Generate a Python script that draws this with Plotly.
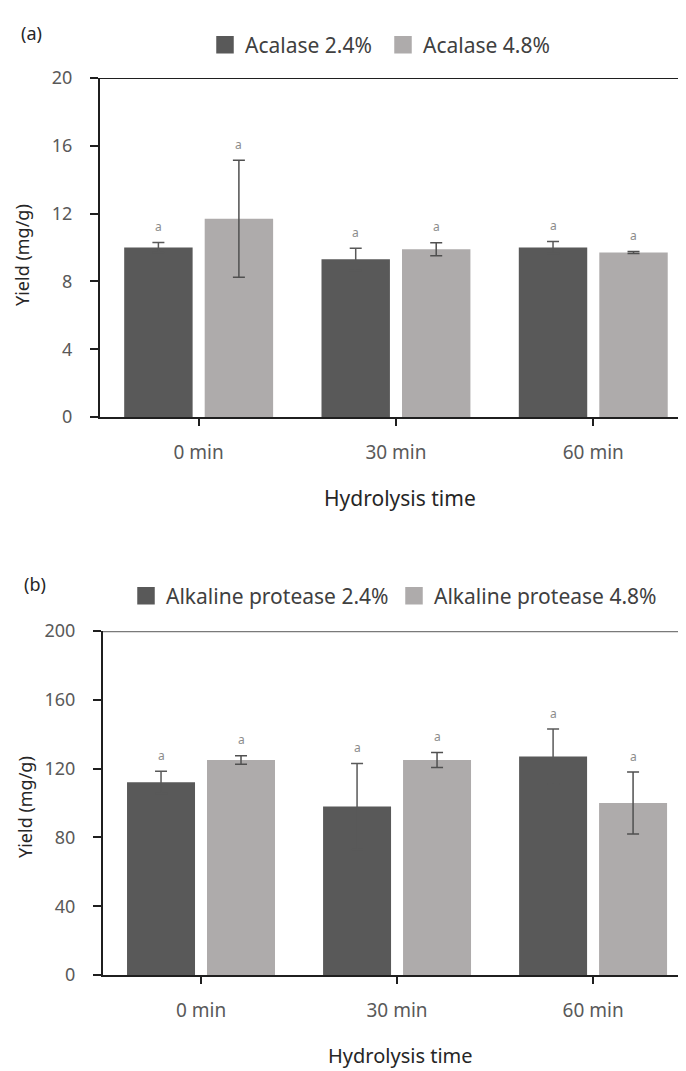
import plotly.graph_objects as go

# ---------------- data ----------------
categories = ["0 min", "30 min", "60 min"]

acalase_24 = [10.0, 9.3, 10.0]
acalase_24_err = [0.3, 0.65, 0.35]
acalase_48 = [11.7, 9.9, 9.7]
acalase_48_err = [3.45, 0.38, 0.06]

alk_24 = [112, 98, 127]
alk_24_err = [6.5, 25, 16]
alk_48 = [125, 125, 100]
alk_48_err = [2.5, 4.3, 18]

letters_a_24 = ["a", "a", "a"]
letters_a_48 = ["a", "a", "a"]
letters_b_24 = ["a", "a", "a"]
letters_b_48 = ["a", "a", "a"]

names_a = ["Acalase 2.4%", "Acalase 4.8%"]
names_b = ["Alkaline protease 2.4%", "Alkaline protease 4.8%"]

y_range_a = [0, 20]
y_range_b = [0, 200]
y_dtick_a = 4
y_dtick_b = 40

# ---------------- style / layout helpers ----------------
FONT = "Noto Sans"
DARK = "#595959"
LIGHT = "#AEABAB"
ERR = "#505050"
BARGAP = 0.184
GROUPGAP = 0.15
OFFSET = 8                      # page body margin in the browser
W, H = 686 - OFFSET, 1071 - OFFSET


def px(x):   # reference page x pixel -> paper fraction
    return (x - OFFSET) / W


def py(y):   # reference page y pixel -> paper fraction
    return 1 - (y - OFFSET) / H


fig = go.Figure()


def err(arr, col):
    return dict(type="data", array=arr, color=col, thickness=1.5, width=6, visible=True)


def add_panel(xa, ya, v1, e1, v2, e2, names, legend):
    fig.add_trace(go.Bar(x=categories, y=v1, error_y=err(e1, DARK), marker=dict(color=DARK, line=dict(width=0)),
                         xaxis=xa, yaxis=ya, showlegend=False, name=names[0]))
    fig.add_trace(go.Bar(x=categories, y=v2, error_y=err(e2, ERR), marker=dict(color=LIGHT, line=dict(width=0)),
                         xaxis=xa, yaxis=ya, showlegend=False, name=names[1]))
    # legend proxies (bigger square symbols)
    for nm, col in zip(names, [DARK, LIGHT]):
        fig.add_trace(go.Scatter(x=[None], y=[None], mode="markers", name=nm,
                                 marker=dict(symbol="square", size=16, color=col, line=dict(width=1.5, color=col)),
                                 xaxis=xa, yaxis=ya, legend=legend, showlegend=True))


add_panel("x", "y", acalase_24, acalase_24_err, acalase_48, acalase_48_err, names_a, "legend")
add_panel("x2", "y2", alk_24, alk_24_err, alk_48, alk_48_err, names_b, "legend2")

# significance letters
off = (1 - BARGAP) / 4
annotations = []
for xr, yr, vals, errs, letters, sign in [
    ("x", "y", acalase_24, acalase_24_err, letters_a_24, -1),
    ("x", "y", acalase_48, acalase_48_err, letters_a_48, 1),
    ("x2", "y2", alk_24, alk_24_err, letters_b_24, -1),
    ("x2", "y2", alk_48, alk_48_err, letters_b_48, 1),
]:
    for i, (v, e, t) in enumerate(zip(vals, errs, letters)):
        annotations.append(dict(x=i + sign * off, y=v + e, xref=xr, yref=yr, text=t, showarrow=False,
                                xanchor="center", yanchor="middle", yshift=16,
                                font=dict(family=FONT, size=12, color="#8c8c8c")))

# text labels
txt = "#262626"


def label(x, y, text, size, angle=0):
    return dict(x=px(x), y=py(y), xref="paper", yref="paper", text=text, showarrow=False,
                xanchor="center", yanchor="middle", textangle=angle,
                font=dict(family=FONT, size=size, color=txt))


annotations += [
    label(31, 33, "(a)", 18),
    label(35, 584, "(b)", 18),
    label(400, 498, "Hydrolysis time", 21),
    label(400, 1055, "Hydrolysis time", 20),
    label(22, 255, "Yield (mg/g)", 18, -90),
    label(25, 807, "Yield (mg/g)", 18, -90),
]

shapes = [
    dict(type="line", xref="x domain", yref="y", x0=0, x1=1, y0=y_range_a[1], y1=y_range_a[1],
         line=dict(color="#1f1f1f", width=2)),
    dict(type="line", xref="x2 domain", yref="y2", x0=0, x1=1, y0=y_range_b[1], y1=y_range_b[1],
         line=dict(color="#7a7a7a", width=2.5)),
]

xcommon = dict(type="category", showline=True, linecolor="#1f1f1f", linewidth=2, ticks="outside",
               ticklen=7, tickwidth=2, tickcolor="#1f1f1f", showgrid=False, zeroline=False,
               tickfont=dict(family=FONT, size=19, color="#595959"), ticklabelstandoff=10, automargin=False)
ycommon = dict(showline=True, linecolor="#1f1f1f", linewidth=2, ticks="outside", ticklen=8, tickwidth=2,
               tickcolor="#1f1f1f", showgrid=False, zeroline=False,
               tickfont=dict(family=FONT, size=18, color="#595959"), ticklabelstandoff=14, automargin=False)

fig.update_layout(
    width=W, height=H,
    margin=dict(l=0, r=0, t=0, b=0, autoexpand=False),
    paper_bgcolor="white", plot_bgcolor="white",
    barmode="group", bargap=BARGAP, bargroupgap=GROUPGAP,
    font=dict(family=FONT),
    xaxis=dict(domain=[px(100), 1], anchor="y", range=[-0.5, 2.47], **xcommon),
    yaxis=dict(domain=[py(417), py(78)], anchor="x", range=y_range_a, dtick=y_dtick_a, tick0=0, **ycommon),
    xaxis2=dict(domain=[px(103), 1], anchor="y2", range=[-0.5, 2.474], **xcommon),
    yaxis2=dict(domain=[py(975), py(631)], anchor="x2", range=y_range_b, dtick=y_dtick_b, tick0=0, **ycommon),
    legend=dict(orientation="h", x=px(205), xanchor="left", y=py(45), yanchor="middle", entrywidth=133,
                font=dict(family=FONT, size=21, color="#404040"), bgcolor="rgba(0,0,0,0)"),
    legend2=dict(orientation="h", x=px(126), xanchor="left", y=py(596), yanchor="middle", entrywidth=223,
                 font=dict(family=FONT, size=21, color="#404040"), bgcolor="rgba(0,0,0,0)"),
    annotations=annotations,
    shapes=shapes,
)

fig.write_html("out.html")
